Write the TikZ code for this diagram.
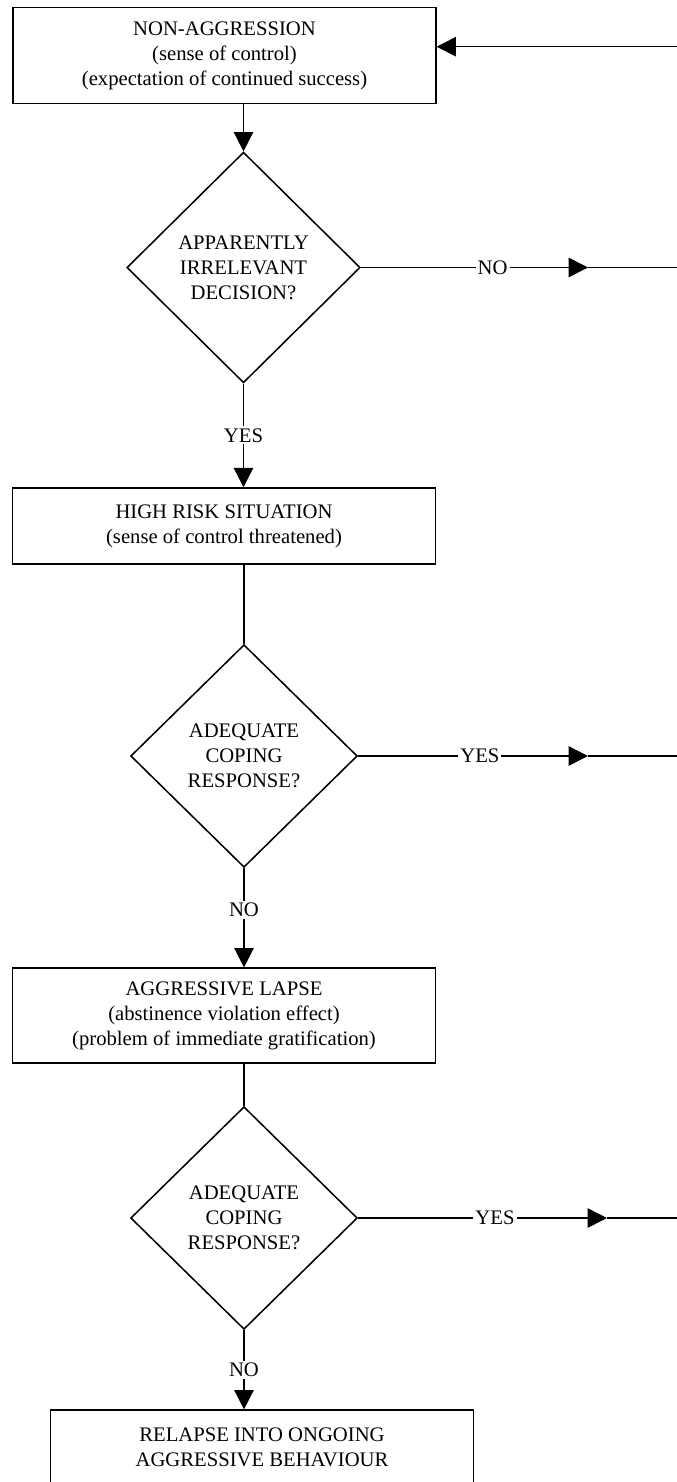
\documentclass[tikz,border=0pt]{standalone}
\usepackage{fontspec}
\setmainfont{Liberation Serif}
\usetikzlibrary{arrows.meta,positioning,shapes.geometric}
\begin{document}
\begin{tikzpicture}[
    x=0.75pt, y=-0.75pt,
    font=\fontsize{15.5}{18.75}\selectfont,
    line width=1.15pt,
    stage/.style={draw, minimum width=317pt, minimum height=72pt,
                  align=center, inner sep=0pt},
    decision/.style={draw, diamond, minimum width=170pt, minimum height=167pt,
                     align=center, inner sep=0pt},
    answer/.style={fill=white, inner sep=1.5pt},
    arrow/.style={-{Triangle[length=14.5pt, width=14.5pt]}}
]
\useasboundingbox (0,0) rectangle (677,1482);
\node[stage] (calm) at (224.5,55.7)
    {NON-AGGRESSION\\(sense of control)\\(expectation of continued success)};
\node[decision, minimum width=175pt, minimum height=173pt] (aid) at (243.5,267.5)
    {APPARENTLY\\IRRELEVANT\\DECISION?};
\node[stage, minimum height=57pt] (risk) at (224,526)
    {HIGH RISK SITUATION\\(sense of control threatened)};
\node[decision] (cope) at (244,756) {ADEQUATE\\COPING\\RESPONSE?};
\node[stage, minimum height=71pt] (lapse) at (224,1015.5)
    {AGGRESSIVE LAPSE\\(abstinence violation effect)\\(problem of immediate gratification)};
\node[decision] (recope) at (244,1218) {ADEQUATE\\COPING\\RESPONSE?};
\node[stage, minimum height=56pt] (relapse) at (262,1447.5)
    {RELAPSE INTO ONGOING\\AGGRESSIVE BEHAVIOUR};
\coordinate (back) at (677,46.7);
\coordinate (tip1) at (588,267.5);
\coordinate (out1) at (677,267.5);
\coordinate (tip2) at (588,756);
\coordinate (out2) at (677,756);
\coordinate (tip3) at (607,1218);
\coordinate (out3) at (677,1218);
\draw[arrow] (back) -- (back -| calm.east);
\draw[arrow] (calm.south -| aid) -- (aid);
\draw[arrow] (aid) -- node[answer] {YES} (aid |- risk.north);
\draw[arrow] (aid) -- node[answer, pos=0.58] {NO} (tip1);
\draw (tip1) -- (out1);
\draw (risk.south -| cope) -- (cope);
\draw[arrow] (cope) -- node[answer, pos=0.42] {NO} (cope |- lapse.north);
\draw[arrow] (cope) -- node[answer, pos=0.53] {YES} (tip2);
\draw (tip2) -- (out2);
\draw (lapse.south -| recope) -- (recope);
\draw[arrow] (recope) -- node[answer] {NO} (recope |- relapse.north);
\draw[arrow] (recope) -- node[answer, pos=0.55] {YES} (tip3);
\draw (tip3) -- (out3);
\end{tikzpicture}
\end{document}
